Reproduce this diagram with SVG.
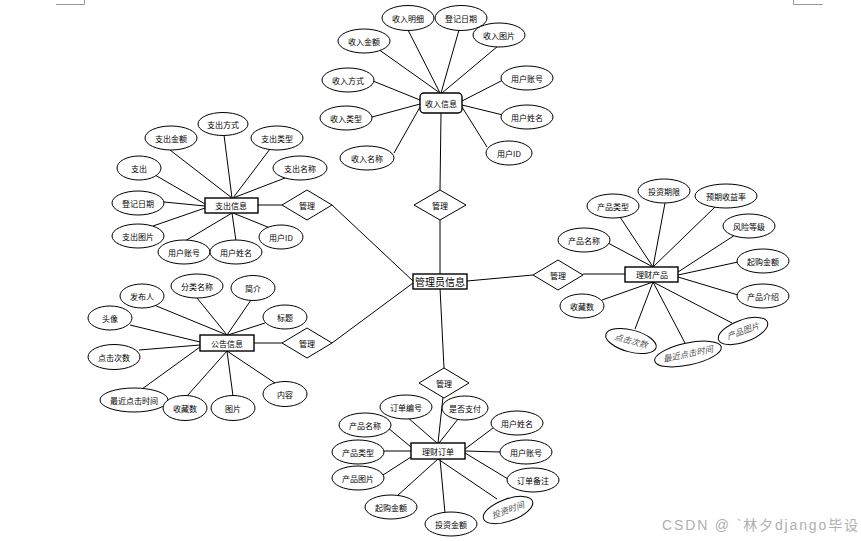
<svg xmlns="http://www.w3.org/2000/svg" width="861" height="541" viewBox="0 0 861 541">
<style>
text{font-family:"Noto Sans CJK SC","Liberation Sans",sans-serif;font-size:8px;fill:#000;text-anchor:middle;dominant-baseline:central}
.e{fill:#fff;stroke:#000;stroke-width:1}
.b{fill:#fff;stroke:#000;stroke-width:1.4}
.d{fill:#fff;stroke:#000;stroke-width:1}
.c line{stroke:#000;stroke-width:1}
.i{font-family:"Liberation Serif","Noto Sans CJK SC",serif;font-style:italic;fill:#555;font-size:8.5px}
.mark{stroke:#999;stroke-width:1;fill:none}
</style>
<rect width="861" height="541" fill="#fff"/>
<path class="mark" d="M56 4.5H84.5V0M793.5 0V4.5H823"/>
<g class="c">
<!-- 收入信息 -->
<line x1="408" y1="30" x2="440" y2="93"/>
<line x1="459" y1="30" x2="441" y2="93"/>
<line x1="498" y1="46" x2="442" y2="93"/>
<line x1="378" y1="49" x2="440" y2="93"/>
<line x1="373" y1="81" x2="420" y2="100"/>
<line x1="372" y1="117" x2="420" y2="104"/>
<line x1="394" y1="153" x2="420" y2="107"/>
<line x1="503" y1="80" x2="462" y2="101"/>
<line x1="503" y1="115" x2="462" y2="105"/>
<line x1="487" y1="147" x2="462" y2="107"/>
<line x1="441" y1="113" x2="440" y2="190"/>
<line x1="440" y1="220" x2="440" y2="274"/>
<!-- 支出信息 -->
<line x1="224" y1="135" x2="232" y2="198"/>
<line x1="170" y1="150" x2="232" y2="198"/>
<line x1="270" y1="149" x2="233" y2="198"/>
<line x1="155" y1="175" x2="205" y2="204"/>
<line x1="285" y1="178" x2="233" y2="198"/>
<line x1="164" y1="202" x2="205" y2="206"/>
<line x1="153" y1="226" x2="205" y2="208"/>
<line x1="185" y1="241" x2="232" y2="213"/>
<line x1="236" y1="241" x2="232" y2="213"/>
<line x1="270" y1="228" x2="233" y2="213"/>
<line x1="258" y1="205" x2="282" y2="205"/>
<line x1="332" y1="205" x2="413" y2="281"/>
<!-- 公告信息 -->
<line x1="154" y1="305" x2="227" y2="335"/>
<line x1="197" y1="298" x2="227" y2="335"/>
<line x1="251" y1="300" x2="227" y2="335"/>
<line x1="265" y1="323" x2="228" y2="335"/>
<line x1="130" y1="325" x2="200" y2="342"/>
<line x1="139" y1="350" x2="200" y2="345"/>
<line x1="142" y1="389" x2="200" y2="347"/>
<line x1="187" y1="396" x2="227" y2="351"/>
<line x1="233" y1="396" x2="227" y2="351"/>
<line x1="275" y1="383" x2="227" y2="351"/>
<line x1="254" y1="343" x2="282" y2="343"/>
<line x1="332" y1="343" x2="413" y2="283"/>
<!-- 理财产品 -->
<line x1="467" y1="281" x2="533" y2="275"/>
<line x1="583" y1="274" x2="625" y2="274"/>
<line x1="620" y1="217" x2="653" y2="267"/>
<line x1="665" y1="203" x2="653" y2="267"/>
<line x1="715" y1="207" x2="653" y2="267"/>
<line x1="735" y1="235" x2="678" y2="272"/>
<line x1="738" y1="262" x2="678" y2="275"/>
<line x1="738" y1="295" x2="678" y2="277"/>
<line x1="608" y1="243" x2="653" y2="267"/>
<line x1="602" y1="300" x2="653" y2="282"/>
<line x1="635" y1="329" x2="653" y2="282"/>
<line x1="685" y1="343" x2="653" y2="282"/>
<line x1="732" y1="323" x2="653" y2="282"/>
<!-- 理财订单 -->
<line x1="440" y1="288" x2="444" y2="368"/>
<line x1="443" y1="397" x2="438" y2="443"/>
<line x1="407" y1="417" x2="437" y2="443"/>
<line x1="458" y1="419" x2="439" y2="443"/>
<line x1="493" y1="428" x2="465" y2="449"/>
<line x1="500" y1="452" x2="465" y2="451"/>
<line x1="508" y1="479" x2="465" y2="453"/>
<line x1="497" y1="499" x2="438" y2="459"/>
<line x1="445" y1="513" x2="440" y2="459"/>
<line x1="397" y1="496" x2="438" y2="459"/>
<line x1="383" y1="475" x2="411" y2="457"/>
<line x1="384" y1="451" x2="411" y2="451"/>
<line x1="388" y1="428" x2="411" y2="447"/>
</g>

<g id="admin"><rect class="b" x="413" y="274" width="54" height="15" stroke-width="1.2"/><text x="440" y="281.5" style="font-size:10px" textLength="50" lengthAdjust="spacingAndGlyphs">管理员信息</text></g>

<!-- 收入信息 cluster -->
<g id="income"><rect class="b" x="420" y="93" width="42" height="20" rx="4"/><text x="441" y="103">收入信息</text></g>
<g id="in-detail"><ellipse class="e" cx="408" cy="18" rx="26" ry="12.5"/><text x="408" y="18">收入明细</text></g>
<g id="in-date"><ellipse class="e" cx="461" cy="18" rx="26" ry="12.5"/><text x="461" y="18">登记日期</text></g>
<g id="in-img"><ellipse class="e" cx="499" cy="35" rx="26" ry="12"/><text x="499" y="35">收入图片</text></g>
<g id="in-amount"><ellipse class="e" cx="364" cy="41" rx="26" ry="12"/><text x="364" y="41">收入金额</text></g>
<g id="in-way"><ellipse class="e" cx="348" cy="80" rx="26" ry="12"/><text x="348" y="80">收入方式</text></g>
<g id="in-type"><ellipse class="e" cx="346" cy="118" rx="26" ry="12"/><text x="346" y="118">收入类型</text></g>
<g id="in-name"><ellipse class="e" cx="367" cy="158" rx="27" ry="12"/><text x="367" y="158">收入名称</text></g>
<g id="in-acc"><ellipse class="e" cx="527" cy="78" rx="26" ry="12"/><text x="527" y="78">用户账号</text></g>
<g id="in-uname"><ellipse class="e" cx="527" cy="117" rx="26" ry="12"/><text x="527" y="117">用户姓名</text></g>
<g id="in-uid"><ellipse class="e" cx="509" cy="153" rx="23" ry="12"/><text x="509" y="153">用户ID</text></g>
<g id="rel-top"><polygon class="d" points="440,190 466,205 440,220 414,205"/><text x="440" y="205">管理</text></g>

<!-- 支出信息 cluster -->
<g id="expense"><rect class="b" x="205" y="198" width="53" height="15"/><text x="231" y="205.5">支出信息</text></g>
<g id="ex-way"><ellipse class="e" cx="223" cy="124" rx="25" ry="11.5"/><text x="223" y="124">支出方式</text></g>
<g id="ex-amount"><ellipse class="e" cx="171" cy="138" rx="26" ry="12"/><text x="171" y="138">支出金额</text></g>
<g id="ex-type"><ellipse class="e" cx="277" cy="138" rx="26" ry="12"/><text x="277" y="138">支出类型</text></g>
<g id="ex-out"><ellipse class="e" cx="139" cy="168" rx="22" ry="12"/><text x="139" y="168">支出</text></g>
<g id="ex-name"><ellipse class="e" cx="300" cy="168" rx="27" ry="12"/><text x="300" y="168">支出名称</text></g>
<g id="ex-date"><ellipse class="e" cx="138" cy="203" rx="26" ry="12"/><text x="138" y="203">登记日期</text></g>
<g id="ex-img"><ellipse class="e" cx="138" cy="236" rx="26" ry="12"/><text x="138" y="236">支出图片</text></g>
<g id="ex-acc"><ellipse class="e" cx="184" cy="252" rx="26" ry="12"/><text x="184" y="252">用户账号</text></g>
<g id="ex-uname"><ellipse class="e" cx="236" cy="252" rx="26" ry="12"/><text x="236" y="252">用户姓名</text></g>
<g id="ex-uid"><ellipse class="e" cx="281" cy="237" rx="22" ry="12"/><text x="281" y="237">用户ID</text></g>
<g id="rel-ex"><polygon class="d" points="307,190 332,205 307,220 282,205"/><text x="307" y="205">管理</text></g>

<!-- 公告信息 cluster -->
<g id="notice"><rect class="b" x="200" y="335" width="54" height="16"/><text x="227" y="343">公告信息</text></g>
<g id="no-pub"><ellipse class="e" cx="142" cy="296" rx="22" ry="12"/><text x="142" y="296">发布人</text></g>
<g id="no-cat"><ellipse class="e" cx="197" cy="286" rx="26" ry="12"/><text x="197" y="286">分类名称</text></g>
<g id="no-intro"><ellipse class="e" cx="253" cy="288" rx="22" ry="12.5"/><text x="253" y="288">简介</text></g>
<g id="no-title"><ellipse class="e" cx="285" cy="317" rx="22" ry="12"/><text x="285" y="317">标题</text></g>
<g id="no-avatar"><ellipse class="e" cx="110" cy="318" rx="22" ry="12"/><text x="110" y="318">头像</text></g>
<g id="no-clicks"><ellipse class="e" cx="114" cy="357" rx="26" ry="12.5"/><text x="114" y="357">点击次数</text></g>
<g id="no-last"><ellipse class="e" cx="134" cy="400" rx="34" ry="12"/><text x="134" y="400">最近点击时间</text></g>
<g id="no-fav"><ellipse class="e" cx="185" cy="408" rx="22" ry="12.5"/><text x="185" y="408">收藏数</text></g>
<g id="no-img"><ellipse class="e" cx="233" cy="408" rx="22" ry="12.5"/><text x="233" y="408">图片</text></g>
<g id="no-content"><ellipse class="e" cx="285" cy="394" rx="22" ry="12.5"/><text x="285" y="394">内容</text></g>
<g id="rel-no"><polygon class="d" points="307,328 332,343 307,358 282,343"/><text x="307" y="343">管理</text></g>

<!-- 理财产品 cluster -->
<g id="product"><rect class="b" x="625" y="267" width="53" height="15"/><text x="652" y="274.5">理财产品</text></g>
<g id="rel-pr"><polygon class="d" points="558,260 583,275 558,290 533,275"/><text x="558" y="275">管理</text></g>
<g id="pr-type"><ellipse class="e" cx="613" cy="206" rx="26" ry="12"/><text x="613" y="206">产品类型</text></g>
<g id="pr-term"><ellipse class="e" cx="664" cy="191" rx="26" ry="12"/><text x="664" y="191">投资期限</text></g>
<g id="pr-rate"><ellipse class="e" cx="726" cy="196" rx="31" ry="12"/><text x="726" y="196">预期收益率</text></g>
<g id="pr-risk"><ellipse class="e" cx="749" cy="226" rx="26" ry="12"/><text x="749" y="226">风险等级</text></g>
<g id="pr-min"><ellipse class="e" cx="763" cy="261" rx="26" ry="12"/><text x="763" y="261">起购金额</text></g>
<g id="pr-intro"><ellipse class="e" cx="763" cy="296" rx="26" ry="12"/><text x="763" y="296">产品介绍</text></g>
<g id="pr-name"><ellipse class="e" cx="584" cy="240" rx="26" ry="12"/><text x="584" y="240">产品名称</text></g>
<g id="pr-fav"><ellipse class="e" cx="582" cy="306" rx="22" ry="12"/><text x="582" y="306">收藏数</text></g>
<g id="pr-clicks" transform="rotate(15 631 341)"><ellipse class="e" cx="631" cy="341" rx="26" ry="11"/><text class="i" x="631" y="341">点击次数</text></g>
<g id="pr-last" transform="rotate(-12 688 354)"><ellipse class="e" cx="688" cy="354" rx="34" ry="11"/><text class="i" x="688" y="354">最近点击时间</text></g>
<g id="pr-img" transform="rotate(-20 743 331)"><ellipse class="e" cx="743" cy="331" rx="26" ry="11"/><text class="i" x="743" y="331">产品图片</text></g>

<!-- 理财订单 cluster -->
<g id="order"><rect class="b" x="411" y="443" width="54" height="16"/><text x="438" y="451">理财订单</text></g>
<g id="rel-or"><polygon class="d" points="444,368 469,383 444,398 419,383"/><text x="444" y="383">管理</text></g>
<g id="or-no"><ellipse class="e" cx="406" cy="407" rx="26" ry="12"/><text x="406" y="407">订单编号</text></g>
<g id="or-paid"><ellipse class="e" cx="465" cy="408" rx="23" ry="12"/><text x="465" y="408">是否支付</text></g>
<g id="or-uname"><ellipse class="e" cx="517" cy="423" rx="26" ry="12"/><text x="517" y="423">用户姓名</text></g>
<g id="or-acc"><ellipse class="e" cx="526" cy="452" rx="26" ry="12"/><text x="526" y="452">用户账号</text></g>
<g id="or-note"><ellipse class="e" cx="533" cy="480" rx="26" ry="12"/><text x="533" y="480">订单备注</text></g>
<g id="or-time" transform="rotate(-20 508 510)"><ellipse class="e" cx="508" cy="510" rx="26" ry="11"/><text class="i" x="508" y="510">投资时间</text></g>
<g id="or-amount"><ellipse class="e" cx="451" cy="524" rx="26" ry="12"/><text x="451" y="524">投资金额</text></g>
<g id="or-min"><ellipse class="e" cx="391" cy="507" rx="26" ry="12"/><text x="391" y="507">起购金额</text></g>
<g id="or-img"><ellipse class="e" cx="358" cy="478" rx="26" ry="12"/><text x="358" y="478">产品图片</text></g>
<g id="or-type"><ellipse class="e" cx="358" cy="452" rx="26" ry="12"/><text x="358" y="452">产品类型</text></g>
<g id="or-name"><ellipse class="e" cx="365" cy="425" rx="26" ry="12"/><text x="365" y="425">产品名称</text></g>

<text x="662" y="525" textLength="196" lengthAdjust="spacing" style="text-anchor:start;font-family:'Liberation Sans','Noto Sans CJK SC',sans-serif;font-size:14px;fill:#b0b0b0">CSDN @ ˋ林夕django毕设</text>
</svg>
